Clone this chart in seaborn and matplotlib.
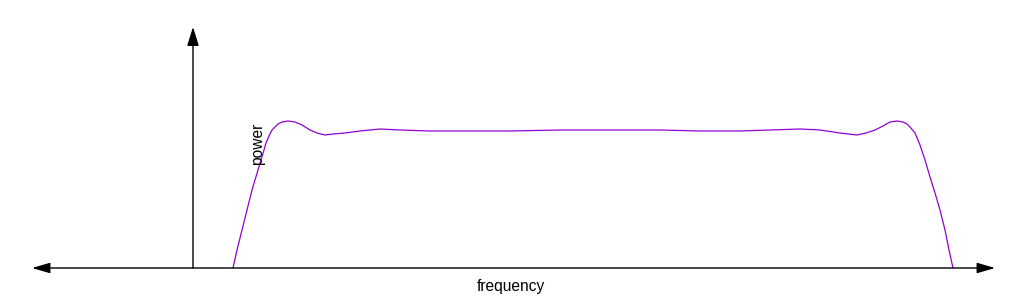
import matplotlib
matplotlib.use("Agg")
import matplotlib.pyplot as plt
import seaborn as sns
import pandas as pd

# curve points (pixel positions), converted to
# frequency (relative to vertical axis) and power (relative to baseline)
x_px = [233, 237, 242, 247, 252, 255, 258, 261, 264, 266, 269, 272, 275, 278, 282, 288,
        295, 302, 310, 317, 325, 333, 345, 360, 380, 400, 430, 470, 510, 560, 610, 660,
        700, 740, 770, 800, 820, 840, 857, 866, 875, 883, 890, 897, 903, 907, 910, 915,
        920, 925, 930, 935, 940, 945, 949, 953]
y_px = [268, 250, 230, 210, 190, 180, 170, 160, 150, 143, 136, 130, 127, 124, 122, 121,
        122, 125, 130, 133, 135, 134, 133, 131, 129, 130, 131, 131, 131, 130, 130, 130,
        131, 131, 130, 129, 130, 133, 135, 133, 130, 126, 122, 121, 122, 124, 127, 133,
        145, 160, 177, 193, 210, 230, 250, 268]
frequency = [v - 193 for v in x_px]
power = [268 - v for v in y_px]

sns.set_theme(style="white")
plt.rcParams['font.family'] = ['Liberation Sans', 'DejaVu Sans']

fig = plt.figure(figsize=(10.24, 3.0), dpi=100)
ax = fig.add_axes([0, 0, 1, 1])
ax.set_xlim(-193, 1024 - 193)
ax.set_ylim(268 - 300, 268)
ax.axis("off")

df = pd.DataFrame({"frequency": frequency, "power": power})
sns.lineplot(data=df, x="frequency", y="power", ax=ax, color="#9400D3",
             linewidth=0.9, sort=False, estimator=None)

# axes arrows
ax.annotate("", xy=(995 - 193, 0), xytext=(32 - 193, 0),
            arrowprops=dict(arrowstyle="<|-|>,head_length=11,head_width=3.2",
                            mutation_scale=1, color="black", lw=1.0,
                            shrinkA=0, shrinkB=0))
ax.annotate("", xy=(0, 268 - 27), xytext=(0, 0),
            arrowprops=dict(arrowstyle="-|>,head_length=11.5,head_width=3.6",
                            mutation_scale=1, color="black", lw=1.0,
                            shrinkA=0, shrinkB=0))

ax.text(511 - 193, 268 - 286.5, "frequency", ha="center", va="center",
        fontsize=11.2, color="black")
ax.text(257.5 - 193, 268 - 144, "power", ha="center", va="center", rotation=90,
        fontsize=11.2, color="black")

fig.savefig("out.png", dpi=100)
